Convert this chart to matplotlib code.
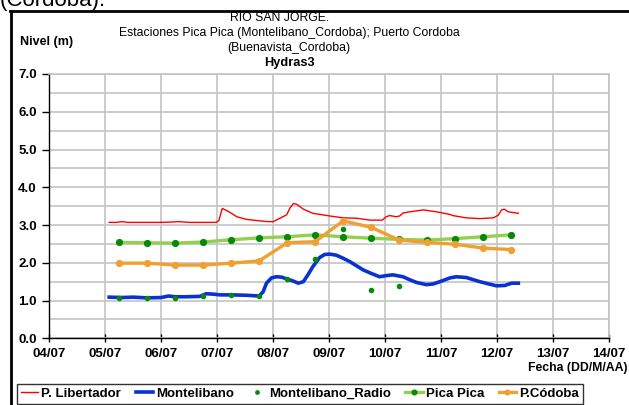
import matplotlib as mat
mat.use('Agg')
import matplotlib.pyplot as plt
from matplotlib.lines import Line2D

plt.rcParams['font.family'] = ['Liberation Sans', 'DejaVu Sans']

# days counted from 04/07
day_labels = ['04/07', '05/07', '06/07', '07/07', '08/07', '09/07',
              '10/07', '11/07', '12/07', '13/07', '14/07']

lib_day = [1.07, 1.2, 1.3, 1.4, 1.6, 2.0, 2.2, 2.3, 2.5, 2.8, 2.98, 3.03, 3.09,
           3.2, 3.35, 3.52, 3.76, 3.9, 4.0, 4.12, 4.24, 4.3, 4.36, 4.42, 4.54,
           4.71, 5.01, 5.25, 5.49, 5.73, 5.95, 6.02, 6.08, 6.2, 6.26, 6.32, 6.44,
           6.68, 6.92, 7.16, 7.21, 7.45, 7.69, 7.93, 8.02, 8.08, 8.13, 8.2, 8.38]
lib_val = [3.07, 3.07, 3.09, 3.07, 3.07, 3.07, 3.08, 3.09, 3.07, 3.07, 3.07, 3.12, 3.44,
           3.36, 3.22, 3.15, 3.11, 3.09, 3.09, 3.18, 3.27, 3.45, 3.57, 3.55, 3.42,
           3.31, 3.24, 3.19, 3.18, 3.13, 3.13, 3.22, 3.25, 3.22, 3.24, 3.32, 3.35,
           3.40, 3.35, 3.28, 3.25, 3.19, 3.17, 3.19, 3.26, 3.40, 3.42, 3.35, 3.31]

mont_day = [1.07, 1.3, 1.5, 1.75, 2.0, 2.13, 2.25, 2.45, 2.69, 2.8, 2.93, 3.05, 3.25,
            3.52, 3.75, 3.82, 3.88, 3.97, 4.06, 4.15, 4.25, 4.35, 4.45, 4.54, 4.62,
            4.71, 4.83, 4.92, 5.01, 5.13, 5.25, 5.37, 5.49, 5.61, 5.75, 5.9, 6.02,
            6.14, 6.32, 6.44, 6.56, 6.74, 6.86, 6.98, 7.16, 7.27, 7.45, 7.69, 7.85,
            7.99, 8.14, 8.26, 8.38]
mont_val = [1.09, 1.08, 1.09, 1.07, 1.08, 1.12, 1.10, 1.10, 1.11, 1.18, 1.17, 1.15, 1.15,
            1.14, 1.12, 1.23, 1.46, 1.60, 1.63, 1.62, 1.57, 1.52, 1.46, 1.50, 1.68,
            1.90, 2.14, 2.22, 2.23, 2.20, 2.12, 2.03, 1.92, 1.81, 1.72, 1.63, 1.66,
            1.68, 1.63, 1.55, 1.48, 1.42, 1.44, 1.50, 1.60, 1.63, 1.61, 1.50, 1.44,
            1.39, 1.40, 1.46, 1.46]

radio_day = [1.25, 1.75, 2.25, 2.75, 3.25, 3.75, 4.25, 4.75, 5.25, 5.75, 6.25]
radio_val = [1.07, 1.06, 1.08, 1.11, 1.15, 1.13, 1.56, 2.09, 2.89, 1.29, 1.39]

obs_day = [1.25, 1.75, 2.25, 2.75, 3.25, 3.75, 4.25, 4.75, 5.25, 5.75, 6.25, 6.75,
           7.25, 7.75, 8.25]
pica_val = [2.54, 2.53, 2.52, 2.55, 2.61, 2.66, 2.69, 2.74, 2.69, 2.65, 2.62, 2.60,
            2.64, 2.69, 2.74]
cord_val = [1.99, 1.99, 1.94, 1.94, 1.99, 2.05, 2.53, 2.56, 3.11, 2.94, 2.60, 2.54,
            2.49, 2.39, 2.35]

W, H = 629, 405
fig = plt.figure(figsize=(W / 100, H / 100), dpi=100)
ax = fig.add_axes([49.3 / W, (H - 338.3) / H, (609 - 49.3) / W, (338.3 - 74) / H])

grid_c = '#c4c4c4'
ax.plot(lib_day, lib_val, color='#ff0000', lw=1.0, label='P. Libertador', zorder=3)
ax.plot(mont_day, mont_val, color='#0a32d2', lw=2.6, label='Montelibano', zorder=4)
ax.plot(radio_day, radio_val, ls='none', marker='o', ms=3.0, color='#078a07',
        label='Montelibano_Radio', zorder=6)
ax.plot(obs_day, pica_val, color='#92d050', lw=2.4, marker='o', ms=4.2,
        mfc='#078a07', mec='#078a07', label='Pica Pica', zorder=4)
ax.plot(obs_day, cord_val, color='#f0a030', lw=2.4, marker='o', ms=4.2,
        mfc='#f0a030', mec='#f0a030', label='P.Códoba', zorder=5)

ax.set_xlim(0, 10)
ax.set_ylim(0, 7)
ax.set_xticks(range(len(day_labels)))
ax.set_xticklabels(day_labels, fontweight='bold', fontsize=9.5)
ax.set_yticks([i * 1.0 for i in range(8)])
ax.set_yticklabels(['%.1f' % i for i in range(8)], fontweight='bold', fontsize=9.5)
ax.set_yticks([i + 0.5 for i in range(7)], minor=True)
ax.tick_params(axis='x', direction='inout', length=6, width=1, pad=4)
ax.tick_params(axis='y', direction='out', length=5, width=1, pad=4)
ax.tick_params(axis='y', which='minor', length=0)
ax.grid(True, which='both', color=grid_c, lw=1.2)
ax.set_axisbelow(True)
for s in ['top', 'right']:
    ax.spines[s].set_color(grid_c)
    ax.spines[s].set_linewidth(1.2)
for s in ['left', 'bottom']:
    ax.spines[s].set_color('black')
    ax.spines[s].set_linewidth(1.0)

# titles and labels
fx = 289 / W
fig.text(280 / W, 1 - 18 / H, 'RIO SAN JORGE.', ha='center', va='center', fontsize=8.8)
fig.text(fx, 1 - 33 / H, 'Estaciones Pica Pica (Montelibano_Cordoba); Puerto Cordoba',
         ha='center', va='center', fontsize=8.8)
fig.text(fx, 1 - 48 / H, '(Buenavista_Cordoba)', ha='center', va='center', fontsize=8.8)
fig.text(fx, 1 - 63 / H, 'Hydras3', ha='center', va='center', fontsize=9.2,
         fontweight='bold')
fig.text(20 / W, 1 - 42 / H, 'Nivel (m)', ha='left', va='center', fontsize=9,
         fontweight='bold')
fig.text(627 / W, 1 - 368 / H, 'Fecha (DD/M/AA)', ha='right', va='center', fontsize=8.8,
         fontweight='bold')
fig.text(0.0, 1 - 6 / H, '(Córdoba).', ha='left', va='baseline', fontsize=16)

# outer frame
fig.add_artist(Line2D([10 / W, 1], [1 - 11 / H, 1 - 11 / H], color='black', lw=2,
                      transform=fig.transFigure))
fig.add_artist(Line2D([11 / W, 11 / W], [1 - 11 / H, 0], color='black', lw=2,
                      transform=fig.transFigure))

leg = fig.legend(loc='lower left', bbox_to_anchor=(17 / W, 1 / H),
                 ncol=5, frameon=True, fancybox=False, borderaxespad=0,
                 prop={'weight': 'bold', 'size': 9.5}, handlelength=1.3,
                 handletextpad=0.25, borderpad=0.3, columnspacing=1.1,
                 markerscale=0.8)
leg.get_frame().set_edgecolor('black')
leg.get_frame().set_linewidth(1.0)

fig.savefig('out.png', dpi=100)
